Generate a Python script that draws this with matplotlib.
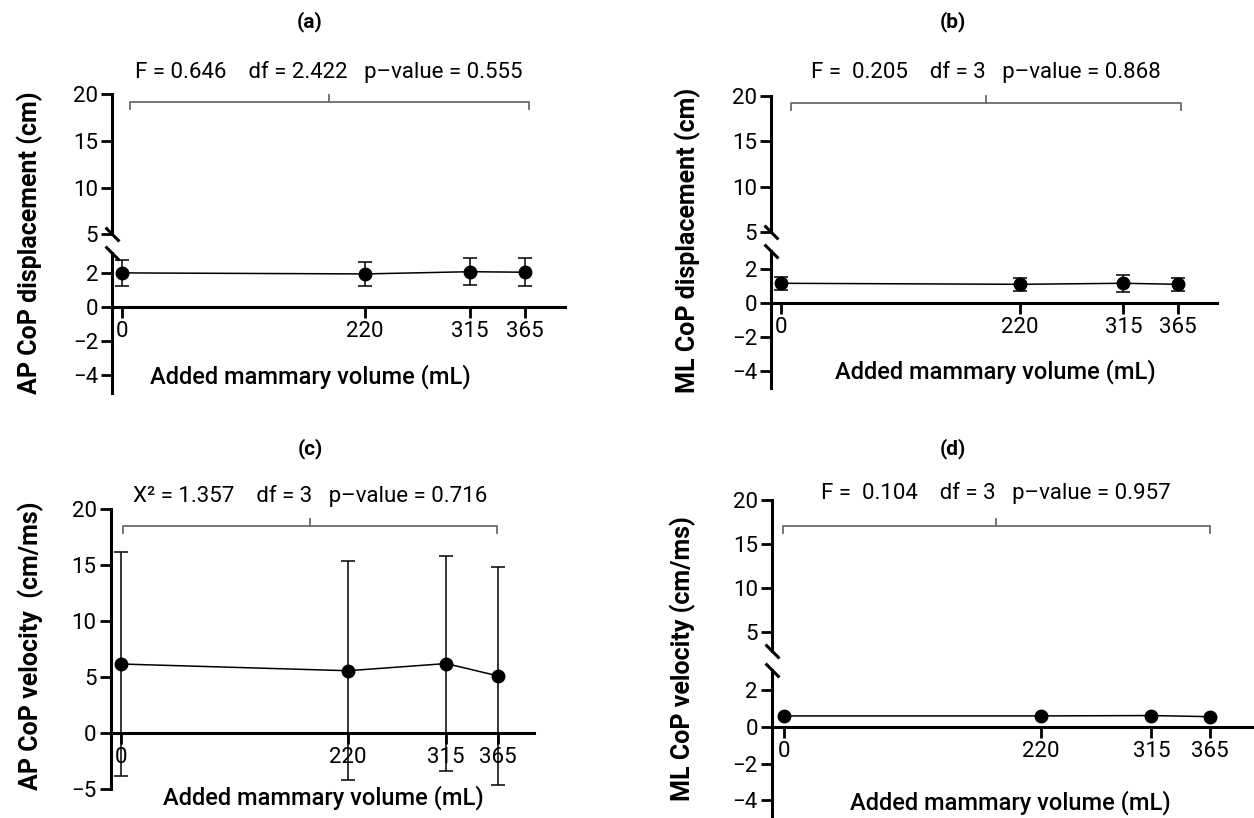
import numpy as np
import matplotlib.pyplot as plt

plt.rcParams['font.family'] = ['Roboto', 'DejaVu Sans']

# ---------------- data ----------------
volume = [0, 220, 315, 365]
vol_ticks = [0, 220, 315, 365]

ap_disp = [2.03, 1.97, 2.10, 2.07]
ap_disp_err = [0.78, 0.72, 0.80, 0.83]

ml_disp = [1.18, 1.12, 1.18, 1.12]
ml_disp_err = [0.38, 0.38, 0.50, 0.40]

ap_vel = [6.16, 5.56, 6.20, 5.10]
ap_vel_err = [10.0, 9.8, 9.6, 9.7]

ml_vel = [0.60, 0.60, 0.62, 0.56]

stats_a = "F = 0.646    df = 2.422   p\u2013value = 0.555"
stats_b = "F =  0.205    df = 3   p\u2013value = 0.868"
stats_c = "X\u00b2 = 1.357    df = 3   p\u2013value = 0.716"
stats_d = "F =  0.104    df = 3   p\u2013value = 0.957"

W, H = 1254, 818
fig = plt.figure(figsize=(W / 100, H / 100), dpi=100)


def box(x0, x1, ytop, ybot):
    return [x0 / W, 1 - ybot / H, (x1 - x0) / W, (ybot - ytop) / H]


def style(ax, yticks, ylim, xlim, show_x):
    ax.set_xlim(*xlim)
    ax.set_ylim(*ylim)
    ax.patch.set_alpha(0)
    for s in ['top', 'right']:
        ax.spines[s].set_visible(False)
    ax.spines['left'].set_linewidth(2.2)
    ax.set_yticks(yticks)
    ax.tick_params(axis='y', direction='out', length=8, width=2, labelsize=16, pad=2)
    if show_x:
        ax.spines['bottom'].set_position(('data', 0))
        ax.spines['bottom'].set_linewidth(2.2)
        ax.set_xticks(vol_ticks)
        ax.tick_params(axis='x', direction='out', length=8, width=2, labelsize=16, pad=2)
    else:
        ax.spines['bottom'].set_visible(False)
        ax.set_xticks([])


def break_marks(ax_lo, ax_hi):
    kw = dict(marker=[(-1, 1), (1, -1)], markersize=10, linestyle='none',
              color='k', mec='k', mew=2.2, clip_on=False)
    ax_hi.plot([0], [0], transform=ax_hi.transAxes, **kw)
    ax_lo.plot([0], [1], transform=ax_lo.transAxes, **kw)


def bracket(ax, x0, x1, y, text, ty):
    inv = ax.transData.inverted()
    p = ax.transData.transform((x0, y))
    dy = y - inv.transform((p[0], p[1] - 7))[1]
    xm = (x0 + x1) / 2
    c = '#6a6a6a'
    ax.plot([x0, x0, x1, x1], [y - dy, y, y, y - dy], color=c, lw=1.3, clip_on=False)
    ax.plot([xm, xm], [y, y + dy], color=c, lw=1.3, clip_on=False)
    ax.text(xm, ty, text, ha='center', va='center', fontsize=16, clip_on=False)


def series(ax, y, err):
    ax.errorbar(volume, y, yerr=err, color='black', lw=1.1, elinewidth=1.1,
                capsize=5, capthick=1.1, marker='o', markersize=9, clip_on=False, zorder=5)


# ---------------- (a) ----------------
xa = (-9, 401)
a_lo = fig.add_axes(box(112, 565, 253, 392.5))
a_hi = fig.add_axes(box(112, 565, 94.3, 234.3))
style(a_lo, [-4, -2, 0, 2], (-5, 3.2), xa, True)
style(a_hi, [5, 10, 15, 20], (5, 20), xa, False)
series(a_lo, ap_disp, ap_disp_err)
break_marks(a_lo, a_hi)
bracket(a_hi, 7, 368, 19.15, stats_a, 22.4)

# ---------------- (b) ----------------
b_lo = fig.add_axes(box(771, 1217, 251, 388.3))
b_hi = fig.add_axes(box(771, 1217, 95.7, 232))
style(b_lo, [-4, -2, 0, 2], (-5, 3.08), xa, True)
style(b_hi, [5, 10, 15, 20], (5, 20), xa, False)
series(b_lo, ml_disp, ml_disp_err)
break_marks(b_lo, b_hi)
bracket(b_hi, 9, 368, 19.2, stats_b, 22.6)

# ---------------- (c) ----------------
c_ax = fig.add_axes(box(110.5, 534, 509, 789))
style(c_ax, [-5, 0, 5, 10, 15, 20], (-5, 20), (-10, 400), True)
series(c_ax, ap_vel, ap_vel_err)
bracket(c_ax, 2.4, 364.5, 18.5, stats_c, 21.2)

# ---------------- (d) ----------------
xd = (-10.5, 403)
d_lo = fig.add_axes(box(771.7, 1254, 670, 818.8))
d_hi = fig.add_axes(box(771.7, 1254, 500, 651))
style(d_lo, [-4, -2, 0, 2], (-5, 3.1), xd, True)
style(d_hi, [5, 10, 15, 20], (2.8, 20), xd, False)
series(d_lo, ml_vel, None)
break_marks(d_lo, d_hi)
bracket(d_hi, -1, 365, 17.0, stats_d, 20.8)

# ---------------- labels ----------------
def ftext(x, y, s, **kw):
    fig.text(x / W, 1 - y / H, s, ha='center', va='center', **kw)


ftext(310, 22, '(a)', fontsize=15, fontweight='bold')
ftext(953, 22, '(b)', fontsize=15, fontweight='bold')
ftext(310, 449, '(c)', fontsize=15, fontweight='bold')
ftext(953, 449, '(d)', fontsize=15, fontweight='bold')

ftext(30, 243, 'AP CoP displacement (cm)', fontsize=18, fontweight='bold', rotation=90)
ftext(688, 240, 'ML CoP displacement (cm)', fontsize=18, fontweight='bold', rotation=90)
ftext(31, 646, 'AP CoP velocity  (cm/ms)', fontsize=18, fontweight='bold', rotation=90)
ftext(683, 659, 'ML CoP velocity (cm/ms)', fontsize=18, fontweight='bold', rotation=90)

ftext(310, 377, 'Added mammary volume (mL)', fontsize=17, fontweight='medium')
ftext(995, 372, 'Added mammary volume (mL)', fontsize=17, fontweight='medium')
ftext(323, 798, 'Added mammary volume (mL)', fontsize=17, fontweight='medium')
ftext(1010, 803, 'Added mammary volume (mL)', fontsize=17, fontweight='medium')

fig.savefig('out.png', dpi=100)
